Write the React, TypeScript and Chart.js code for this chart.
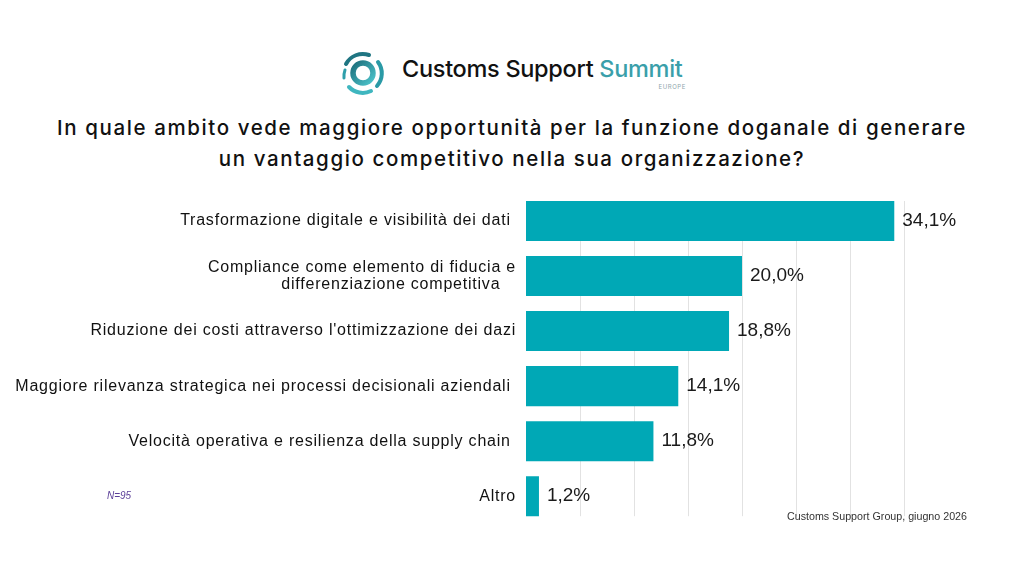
import React, { useEffect, useRef } from "react";
import { Chart, registerables } from "chart.js";

Chart.register(...registerables);

// ---- data ----
const categories: string[][] = [
  ["Trasformazione digitale e visibilità dei dati "],
  ["Compliance come elemento di fiducia e", "differenziazione competitiva   "],
  ["Riduzione dei costi attraverso l'ottimizzazione dei dazi"],
  ["Maggiore rilevanza strategica nei processi decisionali aziendali "],
  ["Velocità operativa e resilienza della supply chain "],
  ["Altro"],
];
const values: number[] = [34.1, 20.0, 18.8, 14.1, 11.8, 1.2];
const xMin = 0;
const xMax = 35;
const xStep = 5;

const titleLines = [
  "In quale ambito vede maggiore opportunità per la funzione doganale di generare",
  "un vantaggio competitivo nella sua organizzazione?",
];
const sampleNote = "N=95";
const sourceNote = "Customs Support Group, giugno 2026";

const BAR_COLOR = "#00A8B6";
const LABEL_TRACKING = "0.78px";
const fmt = (v: number) => v.toFixed(1).replace(".", ",") + "%";

const trackingPlugin = {
  id: "tracking",
  beforeUpdate(chart: any) {
    chart.ctx.letterSpacing = LABEL_TRACKING;
  },
  beforeLayout(chart: any) {
    chart.ctx.letterSpacing = LABEL_TRACKING;
  },
  beforeDraw(chart: any) {
    chart.ctx.letterSpacing = LABEL_TRACKING;
  },
};

const gridPlugin = {
  id: "customGrid",
  beforeDatasetsDraw(chart: any) {
    const meta = chart.getDatasetMeta(0);
    if (!meta.data.length) return;
    const first = meta.data[0].getProps(["y", "height"], true);
    const last = meta.data[meta.data.length - 1].getProps(["y", "height"], true);
    const top = first.y - first.height / 2;
    const bottom = last.y + last.height / 2;
    const xs = chart.scales.x;
    const ctx = chart.ctx;
    ctx.save();
    ctx.strokeStyle = "#e2e2e2";
    ctx.lineWidth = 1;
    for (let v = xMin + xStep; v <= xMax + 1e-9; v += xStep) {
      const px = Math.round(xs.getPixelForValue(v)) + 0.5;
      ctx.beginPath();
      ctx.moveTo(px, top);
      ctx.lineTo(px, bottom);
      ctx.stroke();
    }
    ctx.restore();
  },
};

const valueLabelPlugin = {
  id: "valueLabels",
  afterDatasetsDraw(chart: any) {
    const meta = chart.getDatasetMeta(0);
    const ctx = chart.ctx;
    ctx.save();
    ctx.letterSpacing = "0px";
    ctx.font = '19px "Liberation Sans", Arial, sans-serif';
    ctx.fillStyle = "#1a1a1a";
    ctx.textAlign = "left";
    ctx.textBaseline = "middle";
    meta.data.forEach((bar: any, i: number) => {
      const p = bar.getProps(["x", "y"], true);
      ctx.fillText(fmt(values[i]), p.x + 8, p.y);
    });
    ctx.restore();
  },
};

function Logo() {
  return (
    <svg width="52" height="52" viewBox="-26 -26 52 52" style={{ position: "absolute", left: 337, top: 47 }}>
      <defs>
        <linearGradient id="lg" x1="0" y1="0" x2="1" y2="1">
          <stop offset="0%" stopColor="#1d6f7c" />
          <stop offset="100%" stopColor="#4cc4cb" />
        </linearGradient>
      </defs>
      <circle cx="0" cy="0" r="10" fill="none" stroke="url(#lg)" strokeWidth="5.5" />
      <path d="M -17 -9 A 19 19 0 0 1 6 -18" fill="none" stroke="#1f7582" strokeWidth="4" strokeLinecap="round" />
      <path d="M 15 -11 A 19 19 0 0 1 14 13" fill="none" stroke="#2a9aa6" strokeWidth="4" strokeLinecap="round" />
      <path d="M 8 18 A 19 19 0 0 1 -14 14" fill="none" stroke="#3fb6bf" strokeWidth="4" strokeLinecap="round" />
      <path d="M -19 5 A 19 19 0 0 1 -18 -3" fill="none" stroke="#2f9fab" strokeWidth="3" strokeLinecap="round" />
    </svg>
  );
}

export default function App() {
  const canvasRef = useRef<HTMLCanvasElement | null>(null);

  useEffect(() => {
    document.body.style.margin = "0";
    const canvas = canvasRef.current;
    if (!canvas) return;
    const chart = new Chart(canvas, {
      type: "bar",
      data: {
        labels: categories,
        datasets: [
          {
            data: values,
            backgroundColor: BAR_COLOR,
            borderWidth: 0,
            categoryPercentage: 1,
            barPercentage: 40 / 55,
          },
        ],
      },
      options: {
        indexAxis: "y",
        animation: false,
        responsive: false,
        layout: { padding: { top: 8.5, bottom: 3.3, right: 120, left: 0 } },
        plugins: {
          legend: { display: false },
          tooltip: { enabled: false },
          title: { display: false },
        },
        scales: {
          x: {
            min: xMin,
            max: xMax,
            ticks: { display: false, stepSize: xStep },
            grid: { display: false },
            border: { display: false },
          },
          y: {
            grid: { display: false, drawTicks: false },
            border: { display: false },
            ticks: {
              color: "#111111",
              padding: 10,
              font: { family: '"Liberation Sans", Arial, sans-serif', size: 16, lineHeight: 1.05 },
            },
            afterFit: (scale: any) => {
              scale.width = 526;
              scale.paddingTop = 0;
              scale.paddingBottom = 0;
            },
          },
        },
      },
      plugins: [trackingPlugin, gridPlugin, valueLabelPlugin],
    });
    return () => chart.destroy();
  }, []);

  return (
    <div style={{ position: "absolute", left: 0, top: 0, width: 1024, height: 576, background: "#fff", overflow: "hidden" }}>
      <Logo />
      <div
        style={{
          position: "absolute",
          left: 402,
          top: 55,
          fontFamily: "Inter, sans-serif",
          fontWeight: 500,
          fontSize: 23.5,
          letterSpacing: -0.3,
          lineHeight: "28px",
          whiteSpace: "nowrap",
          color: "#111",
        }}
      >
        Customs Support <span style={{ color: "#3a9faa" }}>Summit</span>
      </div>
      <div
        style={{
          position: "absolute",
          left: 652,
          top: 83,
          width: 34,
          textAlign: "right",
          fontFamily: "Inter, sans-serif",
          fontSize: 6,
          letterSpacing: 0.6,
          color: "#8fa7ad",
        }}
      >
        EUROPE
      </div>
      <div
        style={{
          position: "absolute",
          left: 0,
          top: 112,
          width: 1024,
          textAlign: "center",
          fontFamily: "Inter, sans-serif",
          fontWeight: 500,
          fontSize: 20.5,
          letterSpacing: 1.6,
          lineHeight: "31px",
          color: "#111",
        }}
      >
        {titleLines.map((l, i) => (
          <div key={i}>{l}</div>
        ))}
      </div>
      <canvas
        ref={canvasRef}
        width={1024}
        height={350}
        style={{ position: "absolute", left: 0, top: 185, width: 1024, height: 350 }}
      />
      <div
        style={{
          position: "absolute",
          left: 107,
          top: 490,
          fontFamily: '"Liberation Sans", Arial, sans-serif',
          fontStyle: "italic",
          fontSize: 10,
          color: "#5b3f98",
        }}
      >
        {sampleNote}
      </div>
      <div
        style={{
          position: "absolute",
          right: 1024 - 967,
          top: 510,
          fontFamily: '"Liberation Sans", Arial, sans-serif',
          fontSize: 10.7,
          color: "#333",
          whiteSpace: "nowrap",
        }}
      >
        {sourceNote}
      </div>
    </div>
  );
}
